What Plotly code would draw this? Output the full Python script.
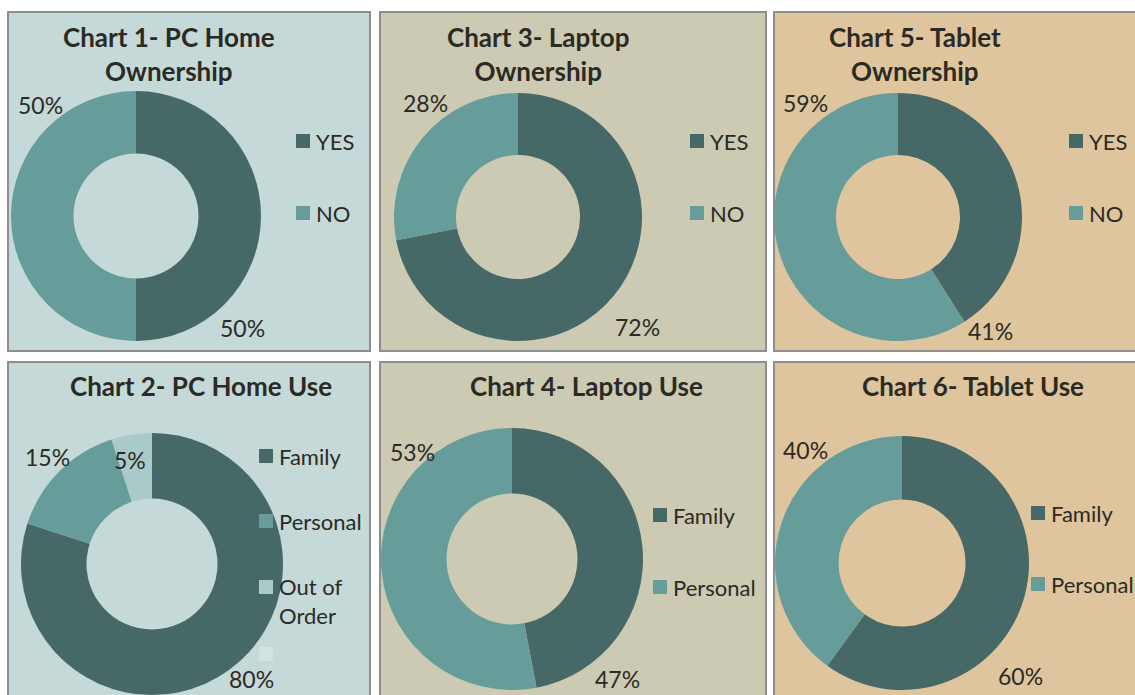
"""Six donut charts: device ownership and use."""
import plotly.graph_objects as go

# ---- data ----
own_labels = ["YES", "NO"]
use_labels_pc = ["Family", "Personal", "Out of Order", ""]
use_labels = ["Family", "Personal"]

pc_own = [50, 50]
laptop_own = [72, 28]
tablet_own = [41, 59]
pc_use = [80, 15, 5, 0]
laptop_use = [47, 53]
tablet_use = [60, 40]

titles = [
    "Chart 1- PC Home<br>Ownership",
    "Chart 3- Laptop<br>Ownership",
    "Chart 5- Tablet<br>Ownership",
    "Chart 2- PC Home Use",
    "Chart 4- Laptop Use",
    "Chart 6- Tablet Use",
]

W, H = 1135, 695
DARK, MID, LIGHT, PALE = "#466866", "#669C9A", "#AACACA", "#D3E2E2"
TEXT = "#2B2A24"
FONT = "Lato, 'Open Sans', sans-serif"
PANEL_BG = ["#C5D9D8", "#CCCAB2", "#DFC59D"]
COL_X = [(8, 370), (380, 766), (774, 1142)]
ROW_Y = [(12, 351), (362, 702)]

# chart specs (pixel coords): pie centre/radius, label offsets,
# title centre, legend square x, legend item y's
charts = [
    dict(labels=own_labels, values=pc_own, c=(136, 216, 125),
         offs=[(106, 112), (-96, -111)], tx=169, ty=54, lx=296, ly=[141, 213]),
    dict(labels=own_labels, values=laptop_own, c=(518, 217, 124),
         offs=[(119, 110), (-93, -114)], tx=538, ty=54, lx=690, ly=[141, 213]),
    dict(labels=own_labels, values=tablet_own, c=(898, 217, 124),
         offs=[(92, 114), (-92, -114)], tx=915, ty=54, lx=1069, ly=[141, 213]),
    dict(labels=use_labels_pc, values=pc_use, c=(152, 564, 131),
         offs=[(99, 115), (-105, -107), (-22, -104), (0, 0)], tx=201, ty=386,
         lx=259, ly=[456, 521, 587, 654]),
    dict(labels=use_labels, values=laptop_use, c=(512, 559, 131),
         offs=[(106, 120), (-100, -107)], tx=586, ty=386, lx=653, ly=[515, 587]),
    dict(labels=use_labels, values=tablet_use, c=(902, 563, 127),
         offs=[(118, 113), (-96, -113)], tx=973, ty=386, lx=1031, ly=[513, 584]),
]
slice_colors = [DARK, MID, LIGHT, PALE]


def px(x):
    return min(max(x / W, 0), 1)


def py(y):
    return min(max(1 - y / H, 0), 1)


fig = go.Figure()
shapes = []
annotations = []

# panel backgrounds
for r, (y0, y1) in enumerate(ROW_Y):
    for c, (x0, x1) in enumerate(COL_X):
        shapes.append(dict(
            type="rect", xref="paper", yref="paper",
            x0=x0 / W, x1=x1 / W, y0=1 - y1 / H, y1=1 - y0 / H,
            fillcolor=PANEL_BG[c], line=dict(color="#8E8E8E", width=2),
            layer="below"))

for i, ch in enumerate(charts):
    cx, cy, rad = ch["c"]
    n = len(ch["labels"])
    fig.add_trace(go.Pie(
        labels=ch["labels"], values=ch["values"], hole=0.5, sort=False,
        direction="clockwise", rotation=0, textinfo="none",
        marker=dict(colors=slice_colors[:n], line=dict(width=0)),
        domain=dict(x=[px(cx - rad), px(cx + rad)], y=[py(cy + rad), py(cy - rad)]),
        showlegend=False, hoverinfo="label+percent",
    ))

    # title
    annotations.append(dict(
        text=f"<b>{titles[i]}</b>", x=px(ch["tx"]), y=py(ch["ty"]),
        xref="paper", yref="paper", showarrow=False, xanchor="center", yanchor="middle",
        font=dict(family=FONT, size=26, color=TEXT), align="center"))

    # percentage labels
    for v, (dx, dy) in zip(ch["values"], ch["offs"]):
        if v == 0:
            continue
        annotations.append(dict(
            text=f"{v}%", x=px(cx + dx), y=py(cy + dy), xref="paper", yref="paper",
            showarrow=False, xanchor="center", yanchor="middle",
            font=dict(family=FONT, size=23, color=TEXT)))

    # legend
    for k, (lab, ly) in enumerate(zip(ch["labels"], ch["ly"])):
        sq = 14
        shapes.append(dict(
            type="rect", xref="paper", yref="paper",
            x0=px(ch["lx"]), x1=px(ch["lx"] + sq),
            y0=py(ly + sq / 2), y1=py(ly - sq / 2),
            fillcolor=slice_colors[k], line=dict(width=0)))
        if lab:
            txt = lab.replace("Out of Order", "Out of<br>Order")
            yy = ly + 14 if "<br>" in txt else ly
            annotations.append(dict(
                text=txt, x=px(ch["lx"] + sq + 4), y=py(yy), xref="paper", yref="paper",
                showarrow=False, xanchor="left", yanchor="middle", align="left",
                font=dict(family=FONT, size=22, color=TEXT)))

fig.update_layout(
    width=W, height=H, margin=dict(l=0, r=0, t=0, b=0),
    paper_bgcolor="white", plot_bgcolor="white",
    shapes=shapes, annotations=annotations, showlegend=False,
)

# drop the default page margin so the figure fills the window exactly
fig.write_html(
    "out.html",
    config={"displayModeBar": False},
    post_script="document.body.style.margin='0';document.body.style.overflow='hidden';",
)
